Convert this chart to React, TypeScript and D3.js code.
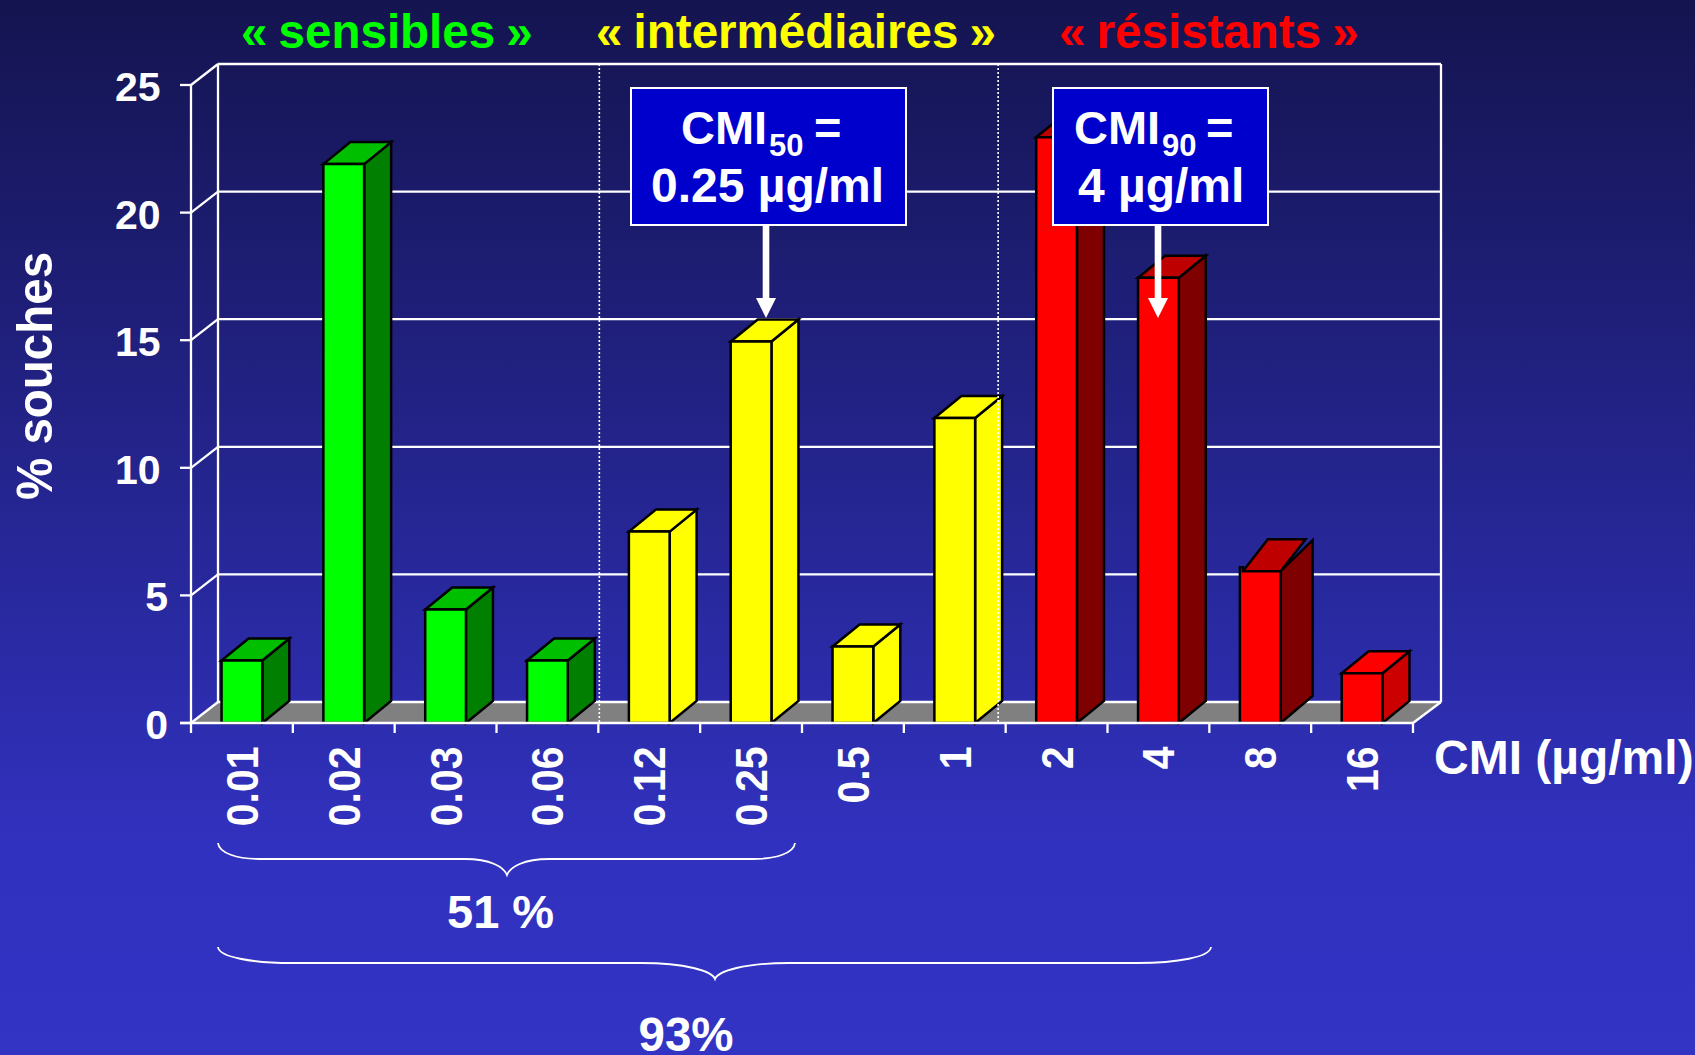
import React from "react";
import * as d3 from "d3";

// Distribution of MIC values across tested strains
const categories = ["0.01", "0.02", "0.03", "0.06", "0.12", "0.25", "0.5", "1", "2", "4", "8", "16"];
const percentStrains = [2.45, 21.9, 4.45, 2.45, 7.5, 14.95, 3.0, 11.95, 22.95, 17.45, 5.95, 1.95];
const susceptibility = ["s", "s", "s", "s", "i", "i", "i", "i", "r", "r", "r", "r2"];
const yTicks = [0, 5, 10, 15, 20, 25];

const groupTitles = ["« sensibles »", "« intermédiaires »", "« résistants »"];
const groupTitleColors = ["#00FF00", "#FFFF00", "#FF0000"];

const palettes: Record<string, { front: string; top: string; side: string }> = {
  s: { front: "#00FF00", top: "#00BF00", side: "#007F00" },
  i: { front: "#FFFF00", top: "#FFFF00", side: "#FFFF00" },
  r: { front: "#FF0000", top: "#BF0000", side: "#7F0000" },
  r2: { front: "#FF0000", top: "#FF0000", side: "#CC0000" },
};

const W = 1695;
const H = 1055;
const FONT = "'Liberation Sans', Arial, sans-serif";

// Chart frame: front plane plus a shear towards the back wall
const frontLeft = 191;
const frontRight = 1413;
const y0 = 723;
const y25 = 85;
const wallDx = 27;
const wallDy = -21;
const barDx = 27;
const barDy = -22;

const x = d3.scaleBand<string>().domain(categories).range([frontLeft, frontRight]).paddingInner(0.6).paddingOuter(0.3);
const y = d3.scaleLinear().domain([0, 25]).range([y0, y25]);
const step = x.step();

// Bar index drawn with a slightly exaggerated extrusion
const skewedBar = 10;

function poly(points: [number, number][]) {
  const p = d3.path();
  points.forEach(([a, b], i) => (i ? p.lineTo(a, b) : p.moveTo(a, b)));
  p.closePath();
  return p.toString();
}

function Bar({ index }: { index: number }) {
  const cat = categories[index];
  const c = palettes[susceptibility[index]];
  const l = x(cat)!;
  const r = l + x.bandwidth();
  const t = y(percentStrains[index]);
  const skew = index === skewedBar;
  const sideDx = skew ? 32 : barDx;
  const bottomDy = skew ? -27 : barDy;
  const sideTopDy = skew ? -31 : barDy;
  const frontPts: [number, number][] = skew
    ? [[l, y0], [l, t - 4], [l + 3, t - 4], [l + 3, t], [r, t], [r, y0]]
    : [[l, y0], [l, t], [r, t], [r, y0]];
  const topPts: [number, number][] = skew
    ? [[l + 3, t], [l + 28, t - 32], [r + 25, t - 32], [r, t]]
    : [[l, t], [l + barDx, t + barDy], [r + barDx, t + barDy], [r, t]];
  const sidePts: [number, number][] = [[r, y0], [r + sideDx, y0 + bottomDy], [r + sideDx, t + sideTopDy], [r, t]];
  return (
    <g stroke="#000" strokeWidth={2.5} strokeLinejoin="miter">
      <path d={poly(sidePts)} fill={c.side} />
      <path d={poly(topPts)} fill={c.top} />
      <path d={poly(frontPts)} fill={c.front} />
    </g>
  );
}

function brace(left: number, tip: number, right: number, top: number, flat: number, point: number, curve: number) {
  const p = d3.path();
  p.moveTo(left, top);
  p.bezierCurveTo(left + 1, flat - 6, left + curve * 0.45, flat, left + curve, flat);
  p.lineTo(tip - curve, flat);
  p.bezierCurveTo(tip - curve * 0.4, flat, tip - 3, flat + 8, tip, point);
  p.bezierCurveTo(tip + 3, flat + 8, tip + curve * 0.4, flat, tip + curve, flat);
  p.lineTo(right - curve, flat);
  p.bezierCurveTo(right - curve * 0.45, flat, right - 1, flat - 6, right, top);
  return p.toString();
}

function Callout({ bx, bw, arrowX, label, sub, subX, eqX, cmiX, valueX, value, tipY }: any) {
  const by = 88;
  const bh = 137;
  return (
    <g>
      <rect x={arrowX - 3.3} y={by + bh} width={6.6} height={tipY - by - bh - 18} fill="#fff" />
      <path d={poly([[arrowX - 10, tipY - 20], [arrowX + 10, tipY - 20], [arrowX, tipY]])} fill="#fff" />
      <rect x={bx} y={by} width={bw} height={bh} fill="#0000CC" stroke="#fff" strokeWidth={2} />
      <g fill="#fff" fontWeight="bold" fontFamily={FONT}>
        <text x={cmiX} y={144} fontSize={47}>{label}</text>
        <text x={subX} y={156} fontSize={31}>{sub}</text>
        <text x={eqX} y={144} fontSize={47}>=</text>
        <text x={valueX} y={202} fontSize={48}>{value}</text>
      </g>
    </g>
  );
}

export default function App() {
  const backX = frontLeft + wallDx;
  const backRight = frontRight + wallDx + 1;
  // Dotted dividers sit just beside the category boundaries they separate
  const dividers = [frontLeft + 4 * step + 1, frontLeft + 8 * step - 7.5];
  return (
    <svg width={W} height={H} viewBox={`0 0 ${W} ${H}`} style={{ position: "absolute", left: 0, top: 0, display: "block" }}>
      <defs>
        <linearGradient id="backdrop" x1="0" y1="0" x2="0" y2="1">
          <stop offset="0" stopColor="#141450" />
          <stop offset="0.8" stopColor="#3131BF" />
          <stop offset="1" stopColor="#3333C4" />
        </linearGradient>
      </defs>
      <rect width={W} height={H} fill="url(#backdrop)" />

      {/* Group headings */}
      <g fontFamily={FONT} fontWeight="bold" fontSize={47.5} wordSpacing={-2}>
        {groupTitles.map((t, i) => (
          <text key={t} x={[241, 596, 1059][i]} y={48} fill={groupTitleColors[i]}>{t}</text>
        ))}
      </g>

      {/* Floor */}
      <path d={poly([[frontLeft, y0], [backX, y0 + wallDy], [backRight, y0 + wallDy], [frontRight, y0]])} fill="#808080" />

      {/* Back wall, side wall and gridlines */}
      <g stroke="#fff" strokeWidth={2.3} fill="none">
        {yTicks.map((t) => (
          <g key={t}>
            <line x1={backX} x2={backRight} y1={y(t) + wallDy} y2={y(t) + wallDy} />
            <line x1={frontLeft} x2={backX} y1={y(t)} y2={y(t) + wallDy} />
            <line x1={frontLeft - 11} x2={frontLeft} y1={y(t)} y2={y(t)} />
          </g>
        ))}
        <line x1={frontLeft} x2={frontLeft} y1={y0} y2={y25} />
        <line x1={backX} x2={backX} y1={y0 + wallDy} y2={y25 + wallDy} />
        <line x1={backRight} x2={backRight} y1={y0 + wallDy} y2={y25 + wallDy} />
        <line x1={frontRight} x2={backRight} y1={y0} y2={y0 + wallDy} />
      </g>

      {categories.map((c, i) => <Bar key={c} index={i} />)}

      {/* Category axis */}
      <g stroke="#fff" strokeWidth={2.3}>
        <line x1={frontLeft - 11} x2={frontRight} y1={y0} y2={y0} />
        {d3.range(categories.length + 1).map((i) => (
          <line key={i} x1={frontLeft + i * step} x2={frontLeft + i * step} y1={y0} y2={y0 + 10} />
        ))}
      </g>

      <g stroke="#fff" strokeWidth={1.6} strokeDasharray="2 2">
        {dividers.map((d) => <line key={d} x1={d} x2={d} y1={y25 + wallDy} y2={y0} />)}
      </g>

      {/* Axis labels; single-digit ticks sit further right than two-digit ones */}
      <g fontFamily={FONT} fontWeight="bold" fill="#fff">
        {yTicks.map((t) => (
          <text key={t} x={t < 10 ? 168 : 160.5} y={y(t) + 16} fontSize={41} textAnchor="end">{t}</text>
        ))}
        {categories.map((c) => (
          <text
            key={c}
            transform={`translate(${x(c)! + x.bandwidth() / 2 + 16},746.5) rotate(-90) scale(1,1.1)`}
            fontSize={41}
            textAnchor="end"
          >
            {c}
          </text>
        ))}
        <text transform="translate(52,500) rotate(-90) scale(1,1.04)" fontSize={47.5}>% souches</text>
        <text x={1434} y={774} fontSize={48}>CMI (µg/ml)</text>
        <text x={447} y={928} fontSize={47}>51 %</text>
        <text x={638.5} y={1051} fontSize={47.5}>93%</text>
      </g>

      {/* Cumulative braces */}
      <g fill="none" stroke="#fff" strokeWidth={1.8}>
        <path d={brace(218, 507, 795, 843, 859, 875, 42)} />
        <path d={brace(218, 715, 1211, 947, 963, 979, 74)} />
      </g>

      <Callout bx={631} bw={275} arrowX={766} tipY={318} label="CMI" sub="50" subX={769} eqX={814} cmiX={681} valueX={651} value="0.25 µg/ml" />
      <Callout bx={1053} bw={215} arrowX={1158} tipY={318} label="CMI" sub="90" subX={1162} eqX={1206} cmiX={1074} valueX={1078} value="4 µg/ml" />
    </svg>
  );
}
